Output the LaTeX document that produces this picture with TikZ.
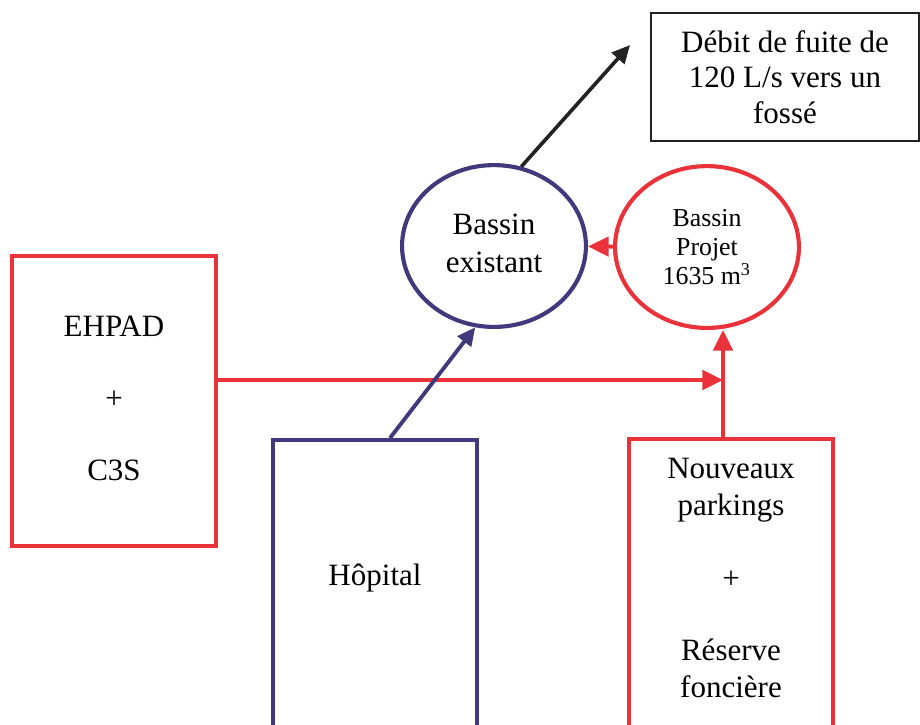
\documentclass[12pt,tikz,border=0pt]{standalone}
\usepackage{fontspec}
\setmainfont{Liberation Serif}
\usepackage{xcolor}
\usetikzlibrary{
    arrows.meta,
    shapes,
    positioning,
    calc
}
\definecolor{rouge}{RGB}{234,50,58}
\definecolor{marine}{RGB}{64,58,124}
\definecolor{noir}{RGB}{34,34,34}

\begin{document}
\begin{tikzpicture}[x=0.0136cm, y=-0.0136cm,
        redbox/.style={draw=rouge, line width=1.6pt, minimum width=2.77cm, align=center},
        bluebox/.style={draw=marine, line width=1.6pt, minimum width=2.77cm},
        pond/.style={ellipse, line width=1.6pt, inner sep=0pt, minimum width=2.5cm, minimum height=2.2cm, align=center},
        redarrow/.style={draw=rouge, line width=1.5pt, -{Triangle[length=8pt, width=7.5pt]}},
        bluearrow/.style={draw=marine, line width=1.5pt, -{Triangle[length=7pt, width=6.5pt]}}
    ]
    \useasboundingbox (0,0) rectangle (920,724);

    % bassins
    \node (existant) [pond, draw=marine] at (494,246) {\raisebox{3.5pt}{\begin{tabular}{@{}c@{}}Bassin\\existant\end{tabular}}};
    \node (projet) [pond, draw=rouge, font=\fontsize{10}{11.2}\selectfont] at (707,247) {Bassin\\Projet\\1635 m\textsuperscript{3}};
    \node (fuite) [draw=noir, line width=0.8pt, minimum width=3.645cm, minimum height=1.741cm,
        align=center, font=\fontsize{12}{13.8}\selectfont] at (785,77) {Débit de fuite de\\120 L/s vers un\\fossé};

    % zones
    \node (ehpad) [redbox, minimum height=3.944cm] at (114,401) {\raisebox{2.3pt}{\begin{tabular}{@{}c@{}}EHPAD\\[13.5pt]+\\[13.5pt]C3S\end{tabular}}};
    \node (hopital) [bluebox, anchor=north, minimum height=4.6cm] at (375,438) {};
    \node (hopitaltxt) at (375,578) {Hôpital};
    \node (nouveaux) [redbox, anchor=north, minimum height=4.6cm] at (731,437) {};
    \node (nouveauxtxt) [align=center] at (731,578) {Nouveaux\\parkings\\[13.5pt]+\\[13.5pt]Réserve\\foncière};

    \coordinate (joint) at (723,380);
    \coordinate (sortie) at (630,45);

    % liaisons
    \draw[redarrow] (projet) -- (existant);
    \draw[redarrow] (ehpad.east |- joint) -- (joint);
    \draw[redarrow] (joint |- nouveaux.north) -- (joint |- projet.south);
    \draw[bluearrow] ($(hopital.north)+(15,0)$) -- (existant.-103);
    \draw[draw=noir, line width=1.4pt, -{Triangle[length=7pt, width=6.5pt]}] (existant.71) -- (sortie);
\end{tikzpicture}
\end{document}
